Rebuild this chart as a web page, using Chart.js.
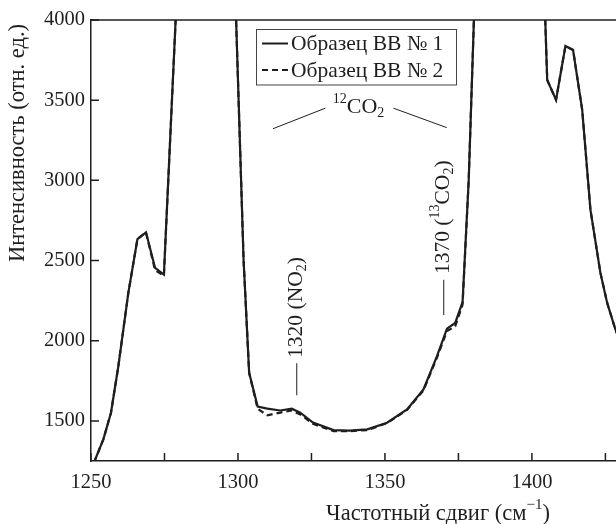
<!DOCTYPE html>
<html>
<head>
<meta charset="utf-8">
<script src="https://cdn.jsdelivr.net/npm/chart.js@4.4.1/dist/chart.umd.min.js"></script>
<style>
html, body { margin: 0; padding: 0; background: #fff; }
</style>
</head>
<body>
<canvas id="spektr" width="616" height="524"></canvas>
<script>
// частотный сдвиг, см-1
const sdvig = [1251.0, 1254.2, 1256.8, 1259.3, 1262.7, 1265.8, 1268.7, 1271.8, 1274.8, 1280.0,
  1298.6, 1301.9, 1303.8, 1306.7, 1310.0, 1314.4, 1318.3, 1321.2, 1325.5, 1332.5,
  1338.0, 1344.0, 1350.7, 1357.5, 1363.1, 1367.7, 1371.1, 1373.9, 1376.4, 1378.5,
  1381.5, 1404.0, 1405.2, 1408.2, 1411.4, 1414.0, 1417.1, 1419.9, 1423.3, 1425.6,
  1428.4, 1431.0];
// интенсивность, образец 1 (сплошная)
const obrazec1 = [1240, 1385, 1551, 1841, 2298, 2634, 2676, 2454, 2412, 4480,
  4450, 2506, 1800, 1590, 1577, 1565, 1576, 1551, 1490, 1443,
  1440, 1447, 1489, 1572, 1696, 1904, 2075, 2111, 2240, 3004,
  4700, 4300, 3626, 3502, 3838, 3813, 3440, 2817, 2423, 2236,
  2070, 1950];
// образец 2 (пунктир)
const obrazec2 = [1240, 1385, 1551, 1841, 2298, 2634, 2676, 2440, 2405, 4480,
  4450, 2506, 1800, 1575, 1535, 1552, 1565, 1540, 1482, 1436,
  1436, 1443, 1486, 1568, 1690, 1895, 2060, 2090, 2225, 3004,
  4700, 4300, 3626, 3502, 3838, 3813, 3440, 2817, 2423, 2236,
  2070, 1950];
const xTiki = [1250, 1275, 1300, 1325, 1350, 1375, 1400, 1425];
const xPodpisi = [1250, 1300, 1350, 1400];
const yTiki = [1500, 2000, 2500, 3000, 3500, 4000];
const nazvaniya = ['Образец ВВ № 1', 'Образец ВВ № 2'];

const SHRIFT = '"Liberation Serif", "DejaVu Serif", serif';
const CVET = '#1e1e1e';

// текст с индексами: [текст, 'n' | 'sup' | 'sub']
function richWidth(ctx, parts, size) {
  let w = 0;
  parts.forEach(p => {
    ctx.font = (p[1] === 'n' ? size : Math.round(size * 0.65)) + 'px ' + SHRIFT;
    w += ctx.measureText(p[0]).width;
  });
  return w;
}
function richText(ctx, parts, x, y, size, align) {
  let w = richWidth(ctx, parts, size);
  let cx = align === 'center' ? x - w / 2 : x;
  ctx.textBaseline = 'middle';
  ctx.textAlign = 'left';
  parts.forEach(p => {
    let dy = 0;
    if (p[1] === 'sup') dy = -size * 0.38;
    if (p[1] === 'sub') dy = size * 0.28;
    ctx.font = (p[1] === 'n' ? size : Math.round(size * 0.65)) + 'px ' + SHRIFT;
    ctx.fillText(p[0], cx, y + dy);
    cx += ctx.measureText(p[0]).width;
  });
}

const oformlenie = {
  id: 'oformlenie',
  afterDraw(chart) {
    const ctx = chart.ctx;
    const a = chart.chartArea;
    const sx = chart.scales.x, sy = chart.scales.y;
    ctx.save();
    ctx.strokeStyle = CVET;
    ctx.fillStyle = CVET;
    ctx.lineWidth = 1.5;

    // верхняя рамка
    ctx.beginPath();
    ctx.moveTo(a.left, a.top);
    ctx.lineTo(a.right, a.top);
    ctx.stroke();

    // засечки внутрь
    ctx.beginPath();
    xTiki.forEach(v => {
      const px = sx.getPixelForValue(v);
      ctx.moveTo(px, a.bottom);
      ctx.lineTo(px, a.bottom - 8);
    });
    yTiki.forEach(v => {
      const py = sy.getPixelForValue(v);
      ctx.moveTo(a.left, py);
      ctx.lineTo(a.left + 8, py);
    });
    ctx.stroke();

    // 12CO2
    ctx.lineWidth = 1;
    richText(ctx, [['12', 'sup'], ['CO', 'n'], ['2', 'sub']], sx.getPixelForValue(1341), sy.getPixelForValue(3455), 22, 'center');
    ctx.beginPath();
    ctx.moveTo(sx.getPixelForValue(1311.9), sy.getPixelForValue(3322));
    ctx.lineTo(sx.getPixelForValue(1329.7), sy.getPixelForValue(3450));
    ctx.moveTo(sx.getPixelForValue(1352.9), sy.getPixelForValue(3450));
    ctx.lineTo(sx.getPixelForValue(1371.0), sy.getPixelForValue(3329));
    ctx.stroke();

    // 1320 (NO2)
    let px = sx.getPixelForValue(1320);
    ctx.beginPath();
    ctx.moveTo(px, sy.getPixelForValue(1860));
    ctx.lineTo(px, sy.getPixelForValue(1660));
    ctx.stroke();
    ctx.save();
    ctx.translate(px, sy.getPixelForValue(1893));
    ctx.rotate(-Math.PI / 2);
    richText(ctx, [['1320 (NO', 'n'], ['2', 'sub'], [')', 'n']], 0, 0, 21.5, 'left');
    ctx.restore();

    // 1370 (13CO2)
    px = sx.getPixelForValue(1370);
    ctx.beginPath();
    ctx.moveTo(px, sy.getPixelForValue(2380));
    ctx.lineTo(px, sy.getPixelForValue(2160));
    ctx.stroke();
    ctx.save();
    ctx.translate(px, sy.getPixelForValue(2416));
    ctx.rotate(-Math.PI / 2);
    richText(ctx, [['1370 (', 'n'], ['13', 'sup'], ['CO', 'n'], ['2', 'sub'], [')', 'n']], 0, 0, 21.5, 'left');
    ctx.restore();

    // легенда
    ctx.strokeStyle = '#444';
    ctx.lineWidth = 1;
    ctx.strokeRect(256.5, 29.5, 200, 55.5);
    const ds = chart.data.datasets;
    [43.5, 70].forEach((ry, i) => {
      ctx.strokeStyle = CVET;
      ctx.lineWidth = 2;
      ctx.setLineDash(ds[i].borderDash || []);
      ctx.beginPath();
      ctx.moveTo(262, ry);
      ctx.lineTo(288, ry);
      ctx.stroke();
      ctx.setLineDash([]);
      richText(ctx, [[nazvaniya[i], 'n']], 291, ry + 1, 21.5, 'left');
    });

    // подписи осей
    ctx.save();
    ctx.translate(18, 143);
    ctx.rotate(-Math.PI / 2);
    richText(ctx, [['Интенсивность (отн. ед.)', 'n']], 0, 0, 22.5, 'center');
    ctx.restore();
    richText(ctx, [['Частотный сдвиг (см', 'n'], ['−1', 'sup'], [')', 'n']], 438, 514, 22.5, 'center');

    ctx.restore();
  }
};

new Chart(document.getElementById('spektr').getContext('2d'), {
  type: 'line',
  data: {
    datasets: [{
      label: nazvaniya[0],
      data: sdvig.map((x, i) => ({ x: x, y: obrazec1[i] })),
      borderColor: CVET,
      borderWidth: 2.2,
      pointRadius: 0,
      tension: 0
    }, {
      label: nazvaniya[1],
      data: sdvig.map((x, i) => ({ x: x, y: obrazec2[i] })),
      borderColor: CVET,
      borderWidth: 2.2,
      borderDash: [6, 4],
      pointRadius: 0,
      tension: 0
    }]
  },
  options: {
    responsive: false,
    animation: false,
    layout: { padding: { top: 20, left: 0, right: 0, bottom: 0 } },
    plugins: {
      legend: { display: false },
      tooltip: { enabled: false }
    },
    scales: {
      x: {
        type: 'linear',
        min: 1250,
        max: 1428.6,
        afterBuildTicks: s => { s.ticks = xTiki.map(v => ({ value: v })); },
        afterFit: s => { s.height = 63; },
        grid: { drawOnChartArea: false, drawTicks: false },
        border: { color: CVET, width: 1.5 },
        ticks: {
          autoSkip: false,
          maxRotation: 0,
          padding: 9,
          color: '#1e1e1e',
          font: { family: SHRIFT, size: 20.5 },
          callback: v => xPodpisi.includes(v) ? String(v) : ''
        }
      },
      y: {
        min: 1250,
        max: 4000,
        afterBuildTicks: s => { s.ticks = yTiki.map(v => ({ value: v })); },
        afterFit: s => { s.width = 91; },
        grid: { drawOnChartArea: false, drawTicks: false },
        border: { color: CVET, width: 1.5 },
        ticks: {
          padding: 6,
          color: '#1e1e1e',
          font: { family: SHRIFT, size: 20.5 },
          callback: v => String(v)
        }
      }
    }
  },
  plugins: [oformlenie]
});
</script>
</body>
</html>
